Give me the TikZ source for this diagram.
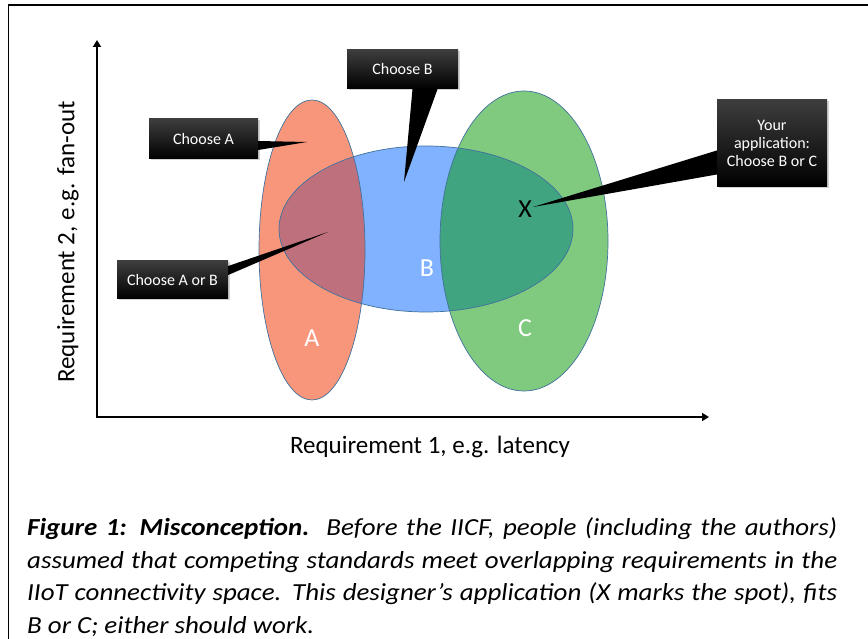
\documentclass[tikz,border=0pt]{standalone}
\usepackage{fontspec}
\setmainfont{Carlito}
\newfontfamily\capfont[FakeStretch=1.10]{Carlito}
\usetikzlibrary{arrows.meta,calc,shadows}
\definecolor{fillA}{RGB}{248,150,124}
\definecolor{fillB}{RGB}{128,178,255}
\definecolor{fillC}{RGB}{128,202,128}
\definecolor{fillAB}{RGB}{190,112,124}
\definecolor{fillBC}{RGB}{64,164,128}
\definecolor{rimblue}{RGB}{65,113,156}

\begin{document}
\begin{tikzpicture}[x=1pt,y=-1pt,
    rim/.style={draw=rimblue, line width=0.7pt},
    callout/.style={rectangle, inner sep=0pt, align=center, text=white,
      top color=black!76, bottom color=black,
      font=\fontsize{16}{18}\selectfont,
      drop shadow={shadow xshift=1.5pt, shadow yshift=-1.5pt, opacity=0.35}},
    letter/.style={font=\fontsize{26}{30}\selectfont},
    axis/.style={line width=1.8pt, {Triangle[length=7pt,width=8pt]}-{Triangle[length=7pt,width=8pt]}}]
    \useasboundingbox (0,0) rectangle (868,639);
    % Frame (only top and left edges show)
    \draw[line width=1.5pt] (8.5,639) -- (8.5,5) -- (868,5);

    % Requirement sets A, B, C
    \fill[fillA] (312,250) ellipse [x radius=53, y radius=150];
    \fill[fillB] (426,229) ellipse [x radius=147, y radius=83];
    \fill[fillC] (524,241) ellipse [x radius=84, y radius=150];
    % Overlaps
    \begin{scope}
      \clip (312,250) ellipse [x radius=53, y radius=150];
      \fill[fillAB] (426,229) ellipse [x radius=147, y radius=83];
    \end{scope}
    \begin{scope}
      \clip (524,241) ellipse [x radius=84, y radius=150];
      \fill[fillBC] (426,229) ellipse [x radius=147, y radius=83];
    \end{scope}
    \draw[rim] (312,250) ellipse [x radius=53, y radius=150];
    \draw[rim] (426,229) ellipse [x radius=147, y radius=83];
    \draw[rim] (524,241) ellipse [x radius=84, y radius=150];

    % Axes
    \coordinate (ytop) at (97,40);
    \coordinate (orig) at (97,417);
    \coordinate (xend) at (709,417);
    \draw[axis] (ytop) -- (orig) -- (xend);
    \node[font=\fontsize{25}{30}\selectfont] (xlab) at (430,447) {Requirement 1, e.g. latency};
    \node[font=\fontsize{25}{30}\selectfont, rotate=90] (ylab) at (68,242) {Requirement 2, e.g. fan-out};

    % Set letters
    \node[letter, text=white] (lA) at (312,338) {A};
    \node[letter, text=white] (lB) at (427,268) {B};
    \node[letter, text=white] (lC) at (525,328) {C};
    \node[letter] (spot) at (525,209) {X};

    % Callouts
    \node[callout, minimum width=109pt, minimum height=40pt] (chA) at (203.5,139) {Choose A};
    \node[callout, minimum width=111pt, minimum height=39pt] (chB) at (402.5,69.5) {Choose B};
    \node[callout, minimum width=111pt, minimum height=38pt] (chAB) at (172.5,280) {Choose A or B};
    \node[callout, minimum width=110pt, minimum height=87pt] (chApp) at (772,143.5) {Your\\application:\\Choose B or C};
    % Pointers
    \coordinate (tipA) at (307,142);
    \coordinate (tipB) at (404,182);
    \coordinate (tipAB) at (328,232);
    \coordinate (tipApp) at (533,207);
    \fill ($(chA.east)+(0,2)$) -- (tipA) -- ($(chA.east)+(0,11)$) -- cycle;
    \fill ($(chB.south)+(10,0)$) -- (tipB) -- ($(chB.south)+(35,0)$) -- cycle;
    \fill ($(chAB.east)+(0,-14)$) -- (tipAB) -- ($(chAB.east)+(0,-5)$) -- cycle;
    \fill ($(chApp.west)+(0,7)$) -- (tipApp) -- ($(chApp.west)+(0,31)$) -- cycle;

    % Caption (justified)
    \node[anchor=north west, align=justify, text width=810pt, inner sep=0pt,
      font=\capfont\itshape\fontsize{24.5}{32.5}\selectfont] (caption) at (27,517.5)
      {\textbf{Figure 1: Misconception.}\ \ Before the IICF, people (including the authors)\linebreak
       assumed that competing standards meet overlapping requirements in the\linebreak
       IIoT connectivity space. This designer’s application (X marks the spot), fits\linebreak
       B or C; either should work.};
\end{tikzpicture}
\end{document}
